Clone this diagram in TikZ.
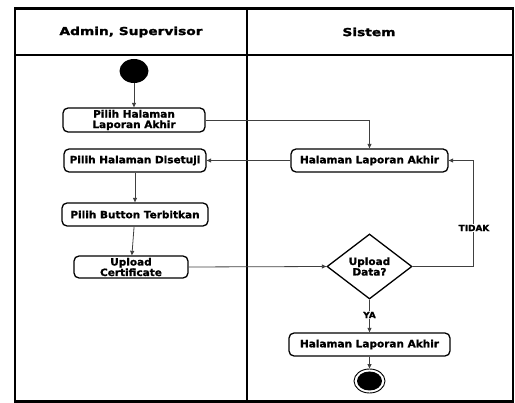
\documentclass[tikz,border=0pt]{standalone}
\usepackage{fontspec}
\setmainfont{DejaVu Sans}
\newfontfamily\bodyfont{DejaVu Sans}[FakeStretch=1.05,FakeBold=1.2]
\newfontfamily\headfont{DejaVu Sans}[FakeStretch=1.25,FakeBold=1.8]
\usetikzlibrary{arrows.meta,shapes.geometric}

\begin{document}
\begin{tikzpicture}[x=1pt,y=-1pt,
  act/.style={draw, line width=1.3pt, rounded corners=5pt, inner sep=0pt,
    align=center, font=\bodyfont\bfseries\fontsize{10}{10.5}\selectfont},
  decision/.style={draw, diamond, line width=1.3pt, inner sep=0pt,
    align=center, font=\bodyfont\bfseries\fontsize{10}{10.5}\selectfont},
  flow/.style={draw=black!75, line width=0.8pt, -{Triangle[length=4.5pt,width=4pt]}},
  guard/.style={fill=white, inner sep=1pt, font=\bodyfont\bfseries\fontsize{8.5}{9}\selectfont},
  lane/.style={line width=2.4pt},
  header/.style={font=\headfont\bfseries\fontsize{11}{12}\selectfont},
  ]
\useasboundingbox (0,0) rectangle (515,403);

% swimlane frame
\draw[lane] (15,8.5) rectangle (513,401.5);
\draw[lane] (15,55) -- (513,55);
\draw[lane] (247,8.5) -- (247,401.5);

\node[header] (hA) at (131,32) {Admin, Supervisor};
\node[header] (hS) at (369,32) {Sistem};

% activities
\node[ellipse, fill=black, minimum width=29pt, minimum height=24pt, inner sep=0pt] (start) at (134,71) {};
\node[act, minimum width=142pt, minimum height=24pt] (p1) at (134,120) {Pilih Halaman\\Laporan Akhir};
\node[act, minimum width=142pt, minimum height=23pt] (p2) at (135,160.5) {Pilih Halaman Disetuji};
\node[act, minimum width=146pt, minimum height=23pt] (p3) at (135,214.5) {Pilih Button Terbitkan};
\node[act, minimum width=114pt, minimum height=22pt] (p4) at (131,267) {Upload\\Certificate};

\node[act, minimum width=157pt, minimum height=23pt] (s1) at (369.5,160.5) {Halaman Laporan Akhir};
\node[decision, minimum width=85pt, minimum height=65pt] (dec) at (369.5,266.5) {Upload\\Data?};
\node[act, minimum width=161pt, minimum height=23pt] (s2) at (369.5,344.5) {Halaman Laporan Akhir};
\node[ellipse, draw, line width=0.9pt, minimum width=31pt, minimum height=24pt, inner sep=0pt] (end) at (369.5,381) {};
\node[ellipse, fill=black, minimum width=25pt, minimum height=19pt, inner sep=0pt] (endin) at (end.center) {};

\coordinate (turn) at (473,266.5);

% transitions
\draw[flow] (start) -- (p1);
\draw[flow] (p1.east) -| (s1.north);
\draw[flow] (s1.west) -- (p2.east);
\draw[flow] (p2) -- (p3);
\draw[flow] (p3) -- (p4);
\draw[flow] (p4.east) -- (dec.west);
\draw[flow] (dec.east) -- (turn) |- (s1.east);
\draw[flow] (dec.south) -- (s2.north);
\draw[flow] (s2) -- (end);

\node[guard] (tidak) at (474,228) {TIDAK};
\node[guard] (ya) at (369.5,315) {YA};
\end{tikzpicture}
\end{document}
